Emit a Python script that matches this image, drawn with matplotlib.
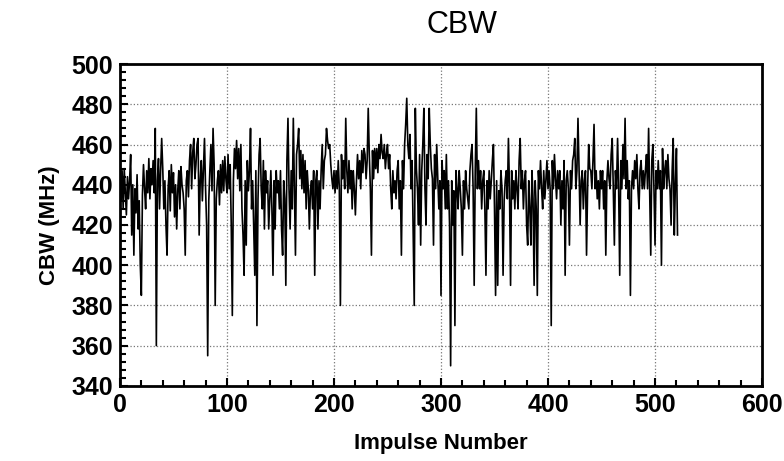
import matplotlib
matplotlib.use("Agg")
import matplotlib.pyplot as plt
import numpy as np
from matplotlib.ticker import MultipleLocator

plt.rcParams["font.family"] = ["Liberation Sans", "DejaVu Sans"]

# CBW per impulse (MHz)
cbw = [
    440, 432, 447, 428, 448, 436, 425, 444, 433, 442,
    455, 415, 440, 405, 438, 426, 445, 418, 432, 400,
    385, 435, 450, 438, 428, 447, 436, 453, 433, 448,
    440, 452, 436, 468, 360, 442, 453, 428, 447, 463,
    448, 428, 442, 420, 405, 438, 447, 427, 450, 436,
    446, 424, 440, 418, 437, 447, 428, 449, 440, 436,
    428, 405, 442, 447, 434, 452, 460, 438, 456, 463,
    443, 450, 460, 463, 415, 442, 452, 432, 447, 463,
    438, 420, 355, 432, 447, 460, 437, 468, 450, 380,
    433, 442, 447, 430, 450, 436, 452, 437, 454, 443,
    436, 455, 438, 450, 420, 375, 442, 458, 448, 462,
    443, 458, 437, 460, 428, 415, 395, 442, 410, 452,
    437, 447, 468, 428, 442, 418, 395, 447, 370, 433,
    455, 463, 438, 428, 452, 418, 447, 436, 442, 418,
    433, 447, 428, 395, 442, 418, 447, 436, 442, 428,
    447, 418, 405, 442, 433, 390, 452, 473, 438, 418,
    447, 428, 473, 438, 405, 455, 460, 468, 443, 457,
    438, 455, 436, 452, 428, 447, 438, 418, 437, 442,
    428, 447, 395, 442, 447, 418, 442, 428, 447, 460,
    438, 452, 455, 468, 462, 458, 460, 450, 443, 438,
    447, 436, 447, 438, 452, 438, 380, 455, 443, 452,
    438, 473, 447, 436, 452, 438, 447, 428, 447, 438,
    425, 442, 455, 443, 452, 438, 457, 446, 458, 455,
    443, 452, 478, 455, 438, 405, 457, 443, 458, 448,
    458, 446, 460, 453, 465, 456, 453, 460, 448, 455,
    460, 448, 455, 438, 428, 447, 436, 442, 433, 447,
    452, 428, 442, 405, 452, 438, 460, 470, 483, 460,
    453, 465, 438, 452, 415, 380, 478, 448, 438, 420,
    455, 410, 447, 460, 478, 438, 420, 455, 443, 478,
    460, 448, 443, 410, 455, 438, 460, 443, 428, 442,
    385, 452, 438, 447, 428, 455, 428, 442, 420, 350,
    442, 420, 437, 370, 447, 438, 428, 447, 438, 428,
    405, 442, 428, 447, 438, 433, 428, 447, 455, 460,
    438, 390, 447, 478, 438, 452, 438, 447, 428, 442,
    447, 428, 395, 442, 428, 447, 433, 442, 452, 460,
    428, 385, 442, 390, 437, 428, 447, 438, 395, 432,
    442, 447, 433, 463, 438, 390, 447, 433, 442, 428,
    447, 438, 428, 452, 463, 438, 447, 428, 442, 447,
    420, 410, 442, 428, 410, 447, 433, 390, 442, 428,
    385, 447, 438, 452, 438, 428, 447, 433, 442, 452,
    438, 447, 438, 370, 452, 438, 455, 443, 433, 447,
    438, 447, 420, 442, 428, 452, 395, 442, 447, 438,
    410, 447, 438, 452, 455, 463, 438, 447, 473, 448,
    420, 442, 447, 428, 442, 447, 405, 438, 460, 448,
    447, 438, 452, 470, 438, 447, 433, 442, 428, 447,
    438, 447, 428, 442, 405, 442, 452, 443, 438, 455,
    463, 438, 410, 447, 438, 463, 438, 395, 452, 438,
    460, 443, 473, 438, 452, 433, 442, 385, 438, 447,
    438, 452, 443, 455, 438, 428, 447, 452, 438, 447,
    438, 447, 455, 438, 468, 438, 405, 452, 460, 438,
    410, 447, 438, 452, 438, 447, 400, 458, 438, 447,
    452, 438, 455, 443, 438, 420, 447, 463, 415, 440,
    458, 415,
]
impulse = np.arange(len(cbw))

fig = plt.figure(figsize=(7.84, 4.61), dpi=100)
ax = fig.add_axes([0.153, 0.163, 0.819, 0.698])

ax.plot(impulse, cbw, color="black", linewidth=1.2)

ax.set_xlim(0, 600)
ax.set_ylim(340, 500)
ax.xaxis.set_major_locator(MultipleLocator(100))
ax.xaxis.set_minor_locator(MultipleLocator(20))
ax.yaxis.set_major_locator(MultipleLocator(20))
ax.yaxis.set_minor_locator(MultipleLocator(4))
ax.tick_params(which="both", direction="in", top=False, right=False, width=1.5)
ax.tick_params(which="major", length=6, labelsize=18, pad=5)
ax.tick_params(which="minor", length=4)
for lbl in ax.get_xticklabels() + ax.get_yticklabels():
    lbl.set_fontweight("bold")

ax.grid(True, which="major", linestyle=":", color="#777777", linewidth=0.9)
for side in ax.spines.values():
    side.set_linewidth(2)

fig.text(0.589, 0.945, "CBW", ha="center", va="center", fontsize=22)
ax.set_xlabel("Impulse Number", fontsize=16, fontweight="bold", labelpad=12)
ax.set_ylabel("CBW (MHz)", fontsize=16, fontweight="bold", labelpad=8)

fig.savefig("out.png", dpi=100)
